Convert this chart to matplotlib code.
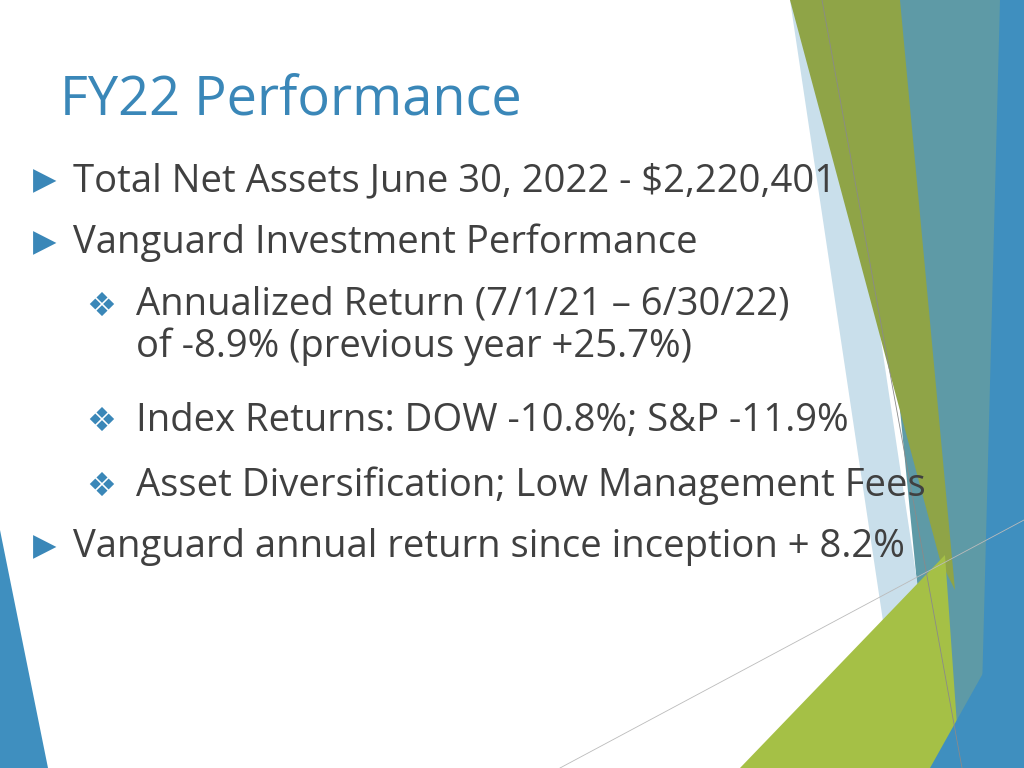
import matplotlib
matplotlib.use("Agg")
import matplotlib.pyplot as plt
from matplotlib.patches import Polygon

title = "FY22 Performance"
levels = [0, 0, 1, 1, 1, 0]
texts = [
    "Total Net Assets June 30, 2022 - $2,220,401",
    "Vanguard Investment Performance",
    "Annualized Return (7/1/21 \u2013 6/30/22)\nof -8.9% (previous year +25.7%)",
    "Index Returns: DOW -10.8%; S&P -11.9%",
    "Asset Diversification; Low Management Fees",
    "Vanguard annual return since inception + 8.2%",
]
line_y = [181, 243, 306, 421, 486, 547]

fig = plt.figure(figsize=(10.24, 7.68), dpi=100)
ax = fig.add_axes([0, 0, 1, 1])
ax.set_xlim(0, 1024); ax.set_ylim(768, 0); ax.axis("off")

shapes = [
    ([(860, 0), (1024, 0), (1024, 768), (935, 768)], "#5E9AA6", 1),
    ([(790, 0), (830, 0), (945, 768), (905, 768)], "#C9DFEB", 2),
    ([(790, 0), (900, 0), (955, 590), (940, 560)], "#8FA447", 3),
    ([(1000, 0), (1024, 0), (1024, 768), (980, 768)], "#3F8FBF", 4),
    ([(740, 768), (945, 555), (960, 768)], "#A5C046", 5),
    ([(930, 768), (1024, 600), (1024, 768)], "#3F8FBF", 6),
    ([(0, 530), (48, 768), (0, 768)], "#3F8FBF", 6),
]
for pts, c, z in shapes:
    ax.add_patch(Polygon(pts, closed=True, color=c, zorder=z, lw=0))
ax.plot([822, 962], [0, 768], color="#8A8A8A", lw=0.6, zorder=7)
ax.plot([560, 1024], [768, 520], color="#BBBBBB", lw=0.6, zorder=7)

ax.text(60, 100, title, fontsize=39, color="#3A87B8", va="center", family="Open Sans", zorder=10)
for lvl, txt, y in zip(levels, texts, line_y):
    if lvl == 0:
        ax.text(33, y, "\u25B6", fontsize=22, color="#3A87B8", va="center", family="DejaVu Sans", zorder=10)
        ax.text(73, y, txt, fontsize=27.5, color="#404040", va="center", family="Open Sans", zorder=10)
    else:
        ax.text(86, y, "\u2756", fontsize=24, color="#3A87B8", va="center", family="DejaVu Sans", zorder=10)
        multi = "\n" in txt
        ax.text(136, y - (20 if multi else 0), txt, fontsize=27.5, color="#404040",
                va="top" if multi else "center", family="Open Sans", zorder=10, linespacing=1.1)
fig.savefig("out.png", dpi=100)
